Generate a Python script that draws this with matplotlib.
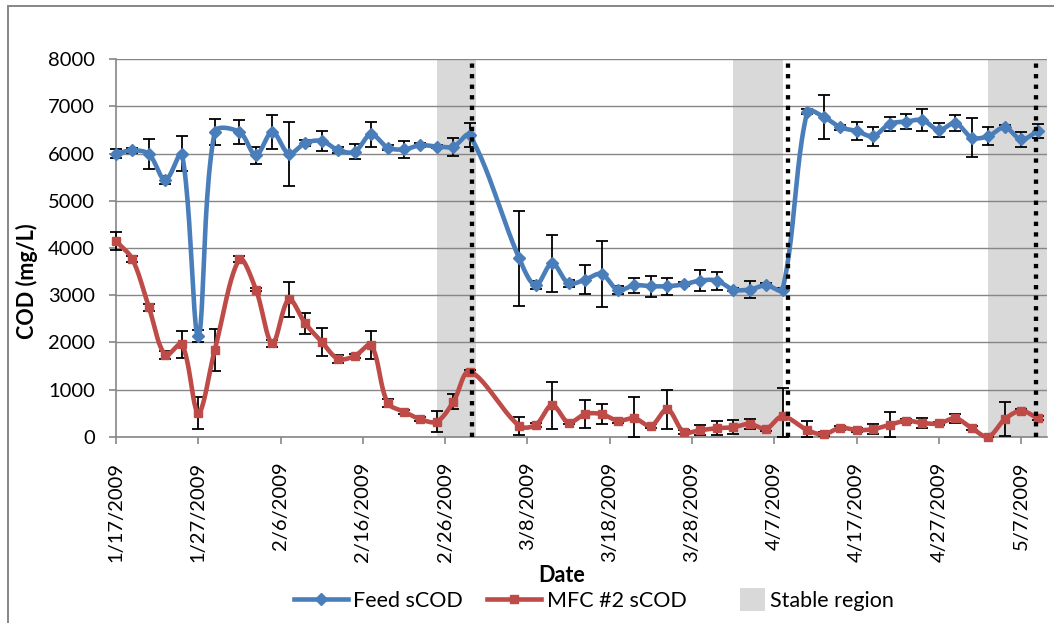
import numpy as np
import pandas as pd
import matplotlib
matplotlib.use("Agg")
import matplotlib.pyplot as plt
import matplotlib.dates as mdates
from matplotlib.lines import Line2D
from matplotlib.patches import Patch, Rectangle
from matplotlib.legend_handler import HandlerPatch

plt.rcParams['font.family'] = ['Lato', 'DejaVu Sans']

# ---------------- data ----------------
dates = ["1/17/2009", "1/19/2009", "1/21/2009", "1/23/2009", "1/25/2009", "1/27/2009",
         "1/29/2009", "2/1/2009", "2/3/2009", "2/5/2009", "2/7/2009", "2/9/2009",
         "2/11/2009", "2/13/2009", "2/15/2009", "2/17/2009", "2/19/2009", "2/21/2009",
         "2/23/2009", "2/25/2009", "2/27/2009", "3/1/2009", "3/7/2009", "3/9/2009",
         "3/11/2009", "3/13/2009", "3/15/2009", "3/17/2009", "3/19/2009", "3/21/2009",
         "3/23/2009", "3/25/2009", "3/27/2009", "3/29/2009", "3/31/2009", "4/2/2009",
         "4/4/2009", "4/6/2009", "4/8/2009", "4/11/2009", "4/13/2009", "4/15/2009",
         "4/17/2009", "4/19/2009", "4/21/2009", "4/23/2009", "4/25/2009", "4/27/2009",
         "4/29/2009", "5/1/2009", "5/3/2009", "5/5/2009", "5/7/2009", "5/9/2009"]

feed_scod = [6000, 6070, 5990, 5440, 6000, 2130, 6460, 6460, 5970, 6460, 6000, 6225,
             6270, 6075, 6040, 6410, 6130, 6090, 6180, 6150, 6150, 6390, 3780, 3210,
             3675, 3250, 3330, 3450, 3110, 3210, 3190, 3190, 3230, 3310, 3310, 3120,
             3120, 3210, 3120, 6890, 6780, 6560, 6480, 6370, 6630, 6680, 6710, 6500,
             6650, 6340, 6370, 6560, 6300, 6480]
feed_err = [100, 60, 320, 80, 370, 130, 280, 250, 180, 360, 680, 60,
            210, 60, 160, 270, 60, 180, 40, 40, 190, 250, 1000, 80,
            600, 80, 310, 700, 80, 160, 220, 180, 40, 230, 190, 40,
            170, 40, 40, 50, 460, 50, 200, 200, 150, 150, 230, 140,
            160, 410, 190, 40, 150, 150]

mfc2_scod = [4150, 3760, 2740, 1730, 1960, 510, 1840, 3760, 3120, 1980, 2910, 2400,
             2010, 1650, 1710, 1940, 720, 530, 370, 320, 740, 1380, 230, 250,
             670, 300, 480, 480, 340, 390, 230, 580, 100, 140, 180, 200,
             270, 170, 430, 140, 50, 190, 140, 160, 250, 340, 290, 280,
             390, 180, 0, 370, 550, 390]
mfc2_err = [190, 60, 80, 80, 290, 340, 440, 60, 40, 80, 370, 230,
            300, 80, 40, 300, 80, 40, 40, 220, 160, 40, 190, 40,
            500, 40, 290, 210, 40, 460, 40, 420, 40, 100, 150, 150,
            110, 40, 600, 200, 40, 40, 40, 100, 270, 40, 110, 40,
            90, 40, 40, 360, 40, 40]

stable_start = ["2/25/2009", "4/2/2009", "5/3/2009"]
stable_days = [4.8, 6.1, 7.1]
change_dates = ["3/1/2009", "4/8/2009", "5/9/2009"]
change_offsets = [0.3, 0.7, -0.2]

tick_labels = ["1/17/2009", "1/27/2009", "2/6/2009", "2/16/2009", "2/26/2009", "3/8/2009",
               "3/18/2009", "3/28/2009", "4/7/2009", "4/17/2009", "4/27/2009", "5/7/2009"]

# ---------------- helpers ----------------
PX_DAY = 8.23      # approximate pixels per day on screen
PX_UNIT = 0.0472   # approximate pixels per mg/L on screen


def smooth(x, y, n=24):
    """Excel-like smoothed line: cubic Bezier segments through the data points,
    tangents weighted by neighbouring segment lengths (on-screen)."""
    x = np.asarray(x, float)
    y = np.asarray(y, float)
    P = np.column_stack([x * PX_DAY, y * PX_UNIT])
    m = len(P)
    seg = np.hypot(*(P[1:] - P[:-1]).T)
    t = np.linspace(0, 1, n, endpoint=False)[:, None]
    out = []
    for i in range(m - 1):
        d_i = seg[i]
        if i > 0:
            c1 = P[i] + (P[i + 1] - P[i - 1]) * d_i / (seg[i - 1] + d_i) / 3
        else:
            c1 = P[i] + (P[i + 1] - P[i]) / 3
        if i + 2 < m:
            c2 = P[i + 1] - (P[i + 2] - P[i]) * d_i / (d_i + seg[i + 1]) / 3
        else:
            c2 = P[i + 1] - (P[i + 1] - P[i]) / 3
        b = ((1 - t) ** 3) * P[i] + 3 * (1 - t) ** 2 * t * c1 + 3 * (1 - t) * t ** 2 * c2 + t ** 3 * P[i + 1]
        out.append(b)
    out.append(P[-1:])
    out = np.vstack(out)
    return out[:, 0] / PX_DAY, out[:, 1] / PX_UNIT


x = mdates.date2num(pd.to_datetime(dates, format="%m/%d/%Y"))
x0 = mdates.date2num(pd.Timestamp("2009-01-17"))

BLUE = "#4A7EBB"
RED = "#BE4B48"
GRID = "#868686"
BAND = "#D9D9D9"

W, H = 1054, 623
fig = plt.figure(figsize=(W / 100, H / 100), dpi=100)
ax = fig.add_axes([116 / W, 1 - 436.7 / H, (1046.7 - 116) / W, (436.7 - 59.3) / H])

# outer chart border
fig.add_artist(Rectangle((8 / W, -0.05), 1.2, (H - 6) / H + 0.05, transform=fig.transFigure,
                         fill=False, edgecolor=GRID, lw=1.4))

# stable regions
for s, d in zip(stable_start, stable_days):
    sx = mdates.date2num(pd.to_datetime(s, format="%m/%d/%Y"))
    ax.axvspan(sx, sx + d, color=BAND, lw=0, zorder=0.2)

# change lines
for c, o in zip(change_dates, change_offsets):
    cx = mdates.date2num(pd.to_datetime(c, format="%m/%d/%Y")) + o
    ax.axvline(cx, color="black", lw=3.1, linestyle=(0, (1, 1.45)),
               dash_capstyle="butt", zorder=6)

# series
for yv, ev, col, mk, ms in [(feed_scod, feed_err, BLUE, "D", 6.5),
                            (mfc2_scod, mfc2_err, RED, "s", 6)]:
    yv_a = np.asarray(yv, float)
    ev_a = np.asarray(ev, float)
    lower = np.minimum(ev_a, yv_a)   # bars stop at the axis
    ax.errorbar(x, yv_a, yerr=[lower, ev_a], fmt="none", ecolor="black", elinewidth=1.3,
                capsize=4, capthick=1.3, zorder=3, clip_on=False)
    sx, sy = smooth(x, yv_a)
    ax.plot(sx, sy, color=col, lw=3.3, zorder=4, solid_capstyle="round", clip_on=False)
    ax.plot(x, yv_a, linestyle="none", marker=mk, ms=ms, color=col, zorder=5, clip_on=False)

ax.set_ylim(0, 8000)
ax.set_xlim(x0, x0 + 113.1)
ax.set_yticks(np.arange(0, 8001, 1000))
ax.set_xticks(mdates.date2num(pd.to_datetime(tick_labels, format="%m/%d/%Y")))
ax.set_xticklabels(tick_labels, rotation=90)

ax.set_axisbelow(True)
ax.grid(axis="y", color=GRID, lw=1.0)
for sp in ["top", "right"]:
    ax.spines[sp].set_visible(False)
for sp in ["left", "bottom"]:
    ax.spines[sp].set_color(GRID)
    ax.spines[sp].set_linewidth(1.2)
ax.tick_params(axis="both", direction="out", length=5, width=1.2, color=GRID,
               labelsize=14.5, labelcolor="black")
ax.tick_params(axis="y", pad=10)
ax.tick_params(axis="x", pad=13)

ax.set_ylabel("COD (mg/L)", fontsize=15.5, fontweight="bold")
ax.yaxis.set_label_coords(-0.0835, 0.413)
fig.text(562 / W, 1 - 575 / H, "Date", ha="center", va="center",
         fontsize=15.5, fontweight="bold")

# legend
def narrow_patch(legend, orig_handle, xdescent, ydescent, width, height, fontsize):
    w = width * 0.47
    return Rectangle((width - w - xdescent, -ydescent - height * 0.25), w, height * 1.5)

handles = [Line2D([], [], color=BLUE, lw=3.3, marker="D", ms=6.5),
           Line2D([], [], color=RED, lw=3.3, marker="s", ms=6),
           Patch(facecolor=BAND, edgecolor="none")]
labels = ["Feed sCOD", "MFC #2 sCOD", "Stable region"]
fig.legend(handles, labels, loc="center", bbox_to_anchor=(594 / W, 1 - 601 / H),
           ncol=3, frameon=False, fontsize=15.5, handlelength=2.5, handletextpad=0.25,
           columnspacing=1.15, borderpad=0,
           handler_map={Patch: HandlerPatch(patch_func=narrow_patch)})

fig.savefig("out.png", dpi=100)
